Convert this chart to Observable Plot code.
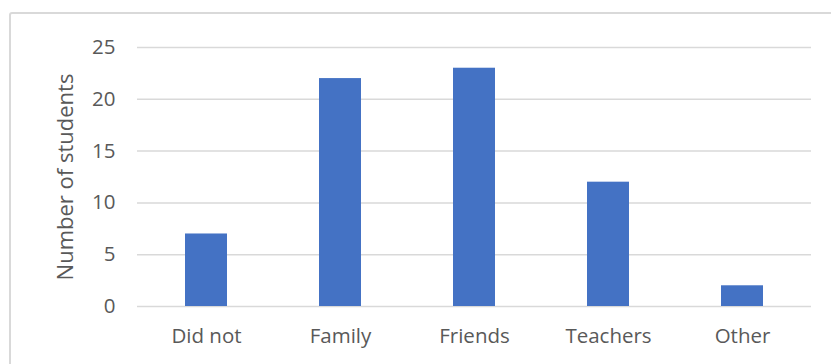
<!DOCTYPE html>
<html>
<head>
<meta charset="utf-8">
<script src="https://cdn.jsdelivr.net/npm/d3@7"></script>
<script src="https://cdn.jsdelivr.net/npm/@observablehq/plot@0.6"></script>
<style>
  html, body { margin: 0; padding: 0; background: #fff; }
  #wrap { position: relative; width: 831px; height: 364px; overflow: hidden; }
  #frame { position: absolute; left: 9px; top: 12px; width: 840px; height: 400px;
           border: 2px solid #d9d9d9; border-radius: 3px; pointer-events: none; }
  svg { display: block; }
</style>
</head>
<body>
<div id="wrap"><div id="frame"></div></div>
<script>
const categories = ["Did not", "Family", "Friends", "Teachers", "Other"];
const values = [7, 22, 23, 12, 2];
const yTicks = [0, 5, 10, 15, 20, 25];
const yLabel = "Number of students";

const data = categories.map((c, i) => ({category: c, value: values[i]}));

const chart = Plot.plot({
  width: 831,
  height: 364,
  marginLeft: 137,
  marginRight: 20,
  marginTop: 47,
  marginBottom: 58,
  style: {fontFamily: "'Open Sans', sans-serif", fontSize: "20px", color: "#595959", background: "transparent"},
  x: {domain: categories, paddingInner: 0.69, paddingOuter: 0.345, label: null},
  y: {domain: [0, 25], ticks: yTicks, label: null},
  marks: [
    Plot.gridY(yTicks, {stroke: "#d9d9d9", strokeOpacity: 1, strokeWidth: 1.5}),
    Plot.barY(data, {x: "category", y: "value", fill: "#4472c4"}),
    Plot.axisX({tickSize: 0, tickPadding: 22, fill: "#595959", fontSize: 20.5}),
    Plot.axisY({ticks: yTicks, tickSize: 0, tickPadding: 22, fill: "#595959", fontSize: 20.5}),
    Plot.text([yLabel], {frameAnchor: "left", textAnchor: "middle", dx: -72, rotate: -90, fill: "#595959", fontSize: 22})
  ]
});
document.getElementById("wrap").prepend(chart);
</script>
</body>
</html>
